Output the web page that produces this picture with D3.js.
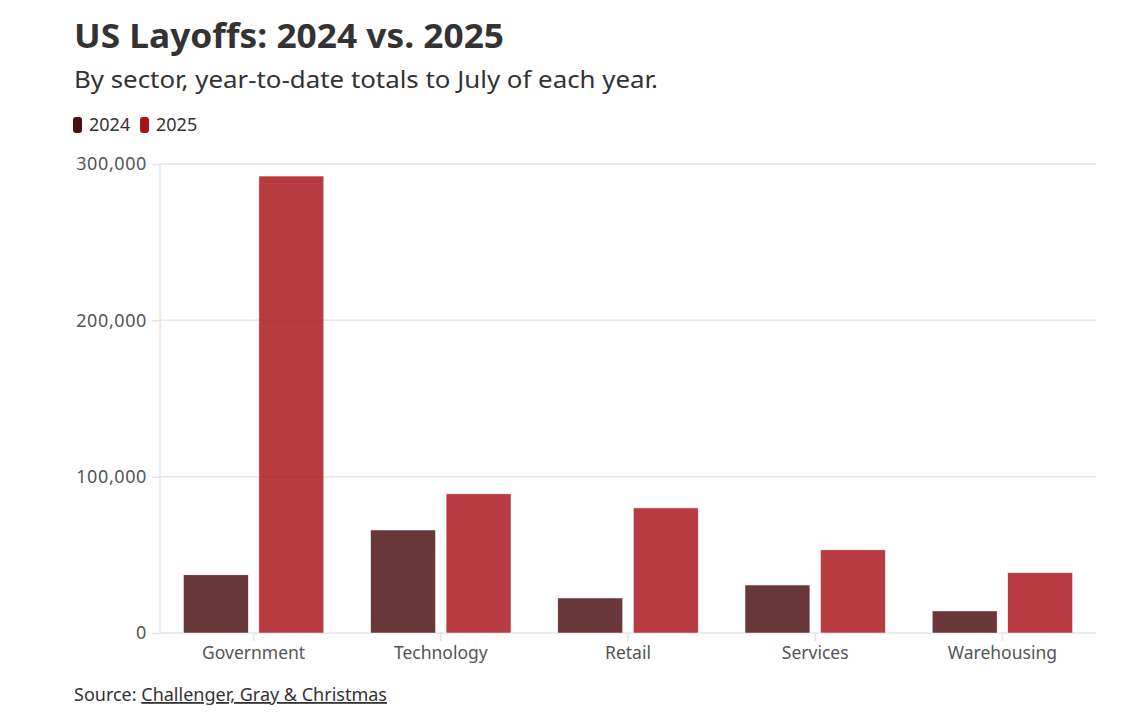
<!DOCTYPE html>
<html>
<head>
<meta charset="utf-8">
<script src="https://cdn.jsdelivr.net/npm/d3@7"></script>
<style>
  body { margin: 0; background: #fff; }
  svg { display: block; font-family: "Noto Sans", sans-serif; }
</style>
</head>
<body>
<div id="chart"></div>
<script>
const sectors = ["Government", "Technology", "Retail", "Services", "Warehousing"];
const years = ["2024", "2025"];
const layoffs2024 = [37200, 65900, 22400, 30700, 14100];
const layoffs2025 = [292300, 89000, 80000, 53200, 38600];
const yTicks = [0, 100000, 200000, 300000];
const colors = ["#4a0e10", "#a81319"];

const width = 1126, height = 725;
const margin = {top: 164, right: 30, bottom: 92, left: 160};

const svg = d3.select("#chart").append("svg")
  .attr("width", width)
  .attr("height", height);

svg.append("text")
  .attr("x", 74).attr("y", 48)
  .attr("font-size", 34).attr("font-weight", 700)
  .attr("fill", "#333")
  .attr("textLength", 430).attr("lengthAdjust", "spacingAndGlyphs")
  .text("US Layoffs: 2024 vs. 2025");

svg.append("text")
  .attr("x", 74).attr("y", 88)
  .attr("font-size", 23)
  .attr("fill", "#333")
  .attr("textLength", 584).attr("lengthAdjust", "spacingAndGlyphs")
  .text("By sector, year-to-date totals to July of each year.");

// legend
const legend = svg.append("g").attr("transform", "translate(73,117)");
let lx = 0;
years.forEach((y, i) => {
  const item = legend.append("g").attr("transform", `translate(${lx},0)`);
  item.append("rect")
    .attr("width", 9).attr("height", 16).attr("rx", 3)
    .attr("fill", colors[i]);
  item.append("text")
    .attr("x", 16).attr("y", 14)
    .attr("font-size", 18).attr("fill", "#333")
    .text(y);
  lx += 67;
});

const graphWidth = width - margin.left - margin.right;
const graphHeight = height - margin.top - margin.bottom;

const g = svg.append("g")
  .attr("transform", `translate(${margin.left},${margin.top})`);

//
// Scales
//

const x0 = d3.scaleBand()
  .domain(sectors)
  .range([0, graphWidth])
  .paddingInner(0.25)
  .paddingOuter(0.125);
const x1 = d3.scaleBand()
  .domain(years)
  .range([0, x0.bandwidth()])
  .paddingInner(0.14);
const y = d3.scaleLinear()
  .domain([0, 300000])
  .range([graphHeight, 0]);

//
// Axes
//

const yAxis = g.append("g")
  .call(d3.axisLeft(y).tickValues(yTicks).tickSize(8).tickPadding(5).tickFormat(d3.format(",")));
yAxis.select(".domain").remove();
yAxis.selectAll(".tick line").attr("stroke", "#e6e6e6").attr("stroke-width", 1.5);
yAxis.selectAll(".tick text")
  .attr("font-size", 18).attr("fill", "#555")
  .attr("letter-spacing", 0.6)
  .attr("font-family", "\"Noto Sans\", sans-serif");

g.append("g").selectAll("line")
  .data(yTicks)
  .join("line")
  .attr("x1", 0).attr("x2", graphWidth)
  .attr("y1", d => y(d)).attr("y2", d => y(d))
  .attr("stroke", "#e6e6e6").attr("stroke-width", 1.5);

g.append("line")
  .attr("x1", 0).attr("x2", 0)
  .attr("y1", 0).attr("y2", graphHeight)
  .attr("stroke", "#e6e6e6").attr("stroke-width", 1.5);

const xAxis = g.append("g")
  .attr("transform", `translate(0,${graphHeight})`)
  .call(d3.axisBottom(x0).tickSize(8).tickPadding(6));
xAxis.select(".domain").remove();
xAxis.selectAll(".tick line").attr("stroke", "#e6e6e6").attr("stroke-width", 1.5);
xAxis.selectAll(".tick text")
  .attr("font-size", 17.5).attr("fill", "#555")
  .attr("font-family", "\"Noto Sans\", sans-serif");

//
// Bars
//

const rows = sectors.map((s, i) => ({sector: s, values: [layoffs2024[i], layoffs2025[i]]}));

g.append("g").selectAll("g")
  .data(rows)
  .join("g")
  .attr("transform", d => `translate(${x0(d.sector)},0)`)
  .selectAll("rect")
  .data(d => d.values.map((v, i) => ({year: years[i], value: v, idx: i})))
  .join("rect")
  .attr("x", d => x1(d.year))
  .attr("y", d => y(d.value))
  .attr("width", x1.bandwidth())
  .attr("height", d => graphHeight - y(d.value))
  .attr("fill", d => colors[d.idx])
  .attr("fill-opacity", 0.83)
  .attr("stroke", "#fff").attr("stroke-width", 0.5);

// source
const src = svg.append("text")
  .attr("x", 74).attr("y", 701)
  .attr("font-size", 18).attr("fill", "#333");
src.append("tspan").text("Source: ");
src.append("tspan").attr("text-decoration", "underline").text("Challenger, Gray & Christmas");
</script>
</body>
</html>
